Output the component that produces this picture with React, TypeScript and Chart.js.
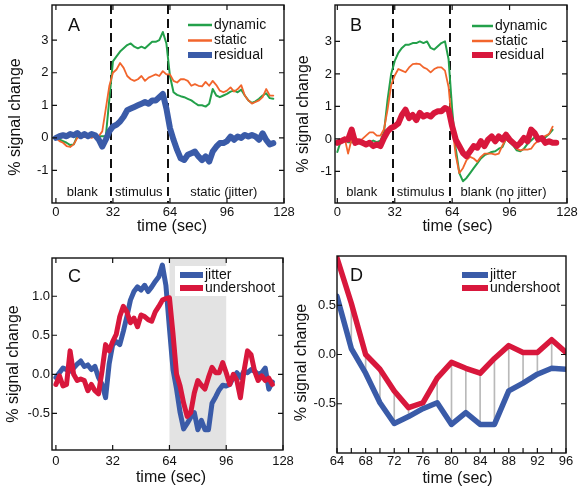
import React, { useEffect, useRef } from "react";
import { Chart, registerables } from "chart.js";

Chart.register(...registerables);

const FONT = "'Liberation Sans', Arial, Helvetica, sans-serif";
const GREEN = "#23a04a";
const ORANGE = "#f2652c";
const BLUE = "#3a5ba8";
const RED = "#d8173c";
const INK = "#111111";

// ---------- data ----------
const timeFull = [0, 2, 4, 6, 8, 10, 12, 14, 16, 18, 20, 22, 24, 26, 28, 30, 32, 34, 36, 38, 40, 42, 44, 46, 48, 50, 52, 54, 56, 58, 60, 62, 64, 66, 68, 70, 72, 74, 76, 78, 80, 82, 84, 86, 88, 90, 92, 94, 96, 98, 100, 102, 104, 106, 108, 110, 112, 114, 116, 118, 120, 122];
const timeD = [64, 66, 68, 70, 72, 74, 76, 78, 80, 82, 84, 86, 88, 90, 92, 94, 96];

const aDynamic = [0, -0.05, -0.1, -0.15, -0.22, -0.2, 0.05, 0.08, 0.05, 0.03, 0.05, 0.03, 0.05, 0.05, 0.05,
  1.2, 2.35, 2.5, 2.65, 2.75, 2.85, 2.9, 2.8, 2.75, 2.8, 2.75, 2.85, 2.95, 2.95, 3.0, 3.25, 2.9,
  1.9, 1.4, 1.32, 1.28, 1.25, 1.2, 1.15, 1.07, 1.0, 1.0, 0.96, 1.05, 1.5, 1.3, 1.25, 1.3, 1.35, 1.42, 1.45, 1.4, 1.48, 1.3, 1.15, 1.07, 1.12, 1.2, 1.3, 1.37, 1.22, 1.2];
const aStatic = [0, -0.1, -0.15, -0.25, -0.28, -0.2, 0.0, 0.05, 0.02, 0.05, 0.0, 0.05, 0.05, 0.2, 0.9,
  1.6, 2.0, 2.1, 2.3, 2.15, 1.9, 1.8, 1.75, 1.8, 1.9, 1.75, 1.85, 1.9, 1.95, 1.9, 2.05, 1.95,
  1.95, 1.75, 1.7, 1.8, 1.8, 1.75, 1.6, 1.65, 1.6, 1.58, 1.72, 1.6, 1.75, 1.62, 1.45, 1.4, 1.45, 1.55, 1.42, 1.5, 1.62, 1.3, 1.15, 1.05, 1.1, 1.15, 1.25, 1.5, 1.3, 1.3];
const aResidual = [0.0, 0.05, 0.08, 0.05, 0.12, 0.08, 0.15, 0.05, 0.12, 0.05, 0.12, 0.08, -0.05, -0.27, -0.05,
  0.2, 0.35, 0.4, 0.5, 0.65, 0.85, 0.9, 0.95, 1.0, 1.05, 1.1, 1.05, 1.15, 1.15, 1.25, 1.35, 0.9,
  0.3, -0.06, -0.37, -0.63, -0.68, -0.52, -0.47, -0.42, -0.57, -0.68, -0.57, -0.73, -0.42, -0.27, -0.16, -0.16, -0.1, 0.04, -0.06, 0.04, 0.0, 0.09, 0.04, 0.09, 0.04, -0.06, 0.14, -0.06, -0.2, -0.16];

const bDynamic = [-0.4, -0.05, 0.0, -0.1, -0.1, -0.1, -0.05, -0.1, -0.15, -0.1, -0.05, -0.1, -0.05, 0.2,
  1.2, 2.0, 2.4, 2.65, 2.8, 2.9, 2.9, 2.95, 2.95, 3.0, 2.95, 3.0, 2.8, 2.75, 2.85, 2.95, 3.0, 2.45,
  0.9, -0.3, -1.05, -1.3, -1.2, -1.05, -0.9, -0.75, -0.6, -0.5, -0.45, -0.4, -0.38, -0.3, -0.25, 0.0, -0.1, -0.2, -0.35, -0.38, -0.3, -0.15, -0.05, 0.05, 0.0, -0.02, 0.05, 0.15, 0.28];
const bStatic = [-0.1, -0.1, 0.05, -0.45, 0.0, 0.05, -0.05, 0.0, 0.1, 0.2, 0.2, 0.1, 0.1, 0.3,
  0.9, 1.65, 1.95, 2.15, 2.1, 2.05, 2.2, 2.3, 2.32, 2.3, 2.2, 2.15, 2.05, 2.15, 2.2, 2.2, 2.1, 1.6,
  0.4, -0.5, -1.05, -0.9, -0.65, -0.55, -0.6, -0.7, -0.55, -0.45, -0.45, -0.45, -0.48, -0.45, -0.2, 0.0, -0.1, -0.15, -0.3, -0.35, -0.32, -0.33, -0.3, -0.15, -0.05, 0.02, 0.1, 0.15, 0.38];
const bResidual = [-0.12, -0.07, -0.02, -0.02, 0.29, -0.12, -0.07, -0.12, -0.17, -0.12, -0.22, -0.17, -0.22,
  0.03, 0.23, 0.34, 0.39, 0.48, 0.74, 0.9, 0.64, 0.74, 0.58, 0.8, 0.69, 0.74, 0.69, 0.8, 0.85, 0.85, 0.95, 0.9,
  0.39, -0.02, -0.22, -0.43, -0.53, -0.38, -0.22, -0.27, -0.07, -0.22, -0.02, 0.08, -0.07, 0.08, -0.02, 0.13, -0.02, -0.12, -0.22, -0.12, 0.03, -0.07, 0.29, 0.18, -0.02, 0.03, -0.12, -0.07, -0.12, -0.12];

// panel D (64–96 s), also the middle part of panel C
const dJitter = [0.59, 0.06, -0.19, -0.49, -0.7, -0.63, -0.55, -0.49, -0.71, -0.59, -0.71, -0.71, -0.37, -0.29, -0.2, -0.14, -0.15];
const dUndershoot = [0.98, 0.52, 0.0, -0.15, -0.37, -0.54, -0.49, -0.24, -0.08, -0.14, -0.19, -0.04, 0.09, 0.02, 0.02, 0.15, 0.02];

const cJitterHead = [-0.04, 0.02, 0.08, 0.06, 0.04, 0.08, 0.13, 0.17, 0.1, 0.12, 0.06, 0.1, -0.04, -0.13, -0.3, 0.13,
  0.38, 0.42, 0.38, 0.55, 0.74, 0.95, 1.06, 1.12, 1.08, 1.14, 1.06, 1.12, 1.19, 1.25, 1.4, 1.14];
const cJitterTail = [-0.13, -0.04, 0.02, -0.04, 0.04, 0.02, 0.06, 0.04, 0.0, 0.02, 0.08, -0.19, -0.1];
const cUndershootHead = [-0.13, -0.02, -0.15, -0.13, 0.3, 0.0, -0.08, -0.06, -0.08, -0.21, -0.13, -0.21, -0.25, 0.04, 0.38, 0.3,
  0.42, 0.51, 0.74, 0.87, 0.8, 0.66, 0.72, 0.61, 0.76, 0.74, 0.7, 0.68, 0.8, 0.87, 0.95, 0.97];
const cUndershootTail = [-0.13, 0.0, -0.08, -0.3, 0.04, 0.3, 0.25, 0.04, -0.08, -0.02, -0.08, -0.05, -0.13];
const cJitter = [...cJitterHead, ...dJitter, ...cJitterTail];
const cUndershoot = [...cUndershootHead, ...dUndershoot, ...cUndershootTail];

// ticks / annotations
const xTicksFull = [0, 32, 64, 96, 128];
const xTicksD = [64, 68, 72, 76, 80, 84, 88, 92, 96];
const xMarksD = [64, 66, 68, 70, 72, 74, 76, 78, 80, 82, 84, 86, 88, 90, 92, 94, 96];
const yTicksAB = [-1, 0, 1, 2, 3];
const yTicksC = [-0.5, 0, 0.5, 1];
const yTicksD = [-0.5, 0, 0.5];
const stimulusEdges = [31, 63];
const shadeC: [number, number] = [64, 96];
const regionsA = [{ text: "blank", at: 14.8 }, { text: "stimulus", at: 46.5 }, { text: "static (jitter)", at: 94.2 }];
const regionsB = [{ text: "blank", at: 13.6 }, { text: "stimulus", at: 46.4 }, { text: "blank (no jitter)", at: 92.6 }];

// ---------- helpers ----------
type Box = { left: number; top: number; width: number; height: number };
type Area = { l: number; t: number; r: number; b: number };
type LegendItem = { label: string; color: string; width: number };
type Pt = { x: number; y: number };

interface PanelSpec {
  name: string;
  box: Box;
  area: Area;
  xRange: [number, number];
  yRange: [number, number];
  xTicks: number[];
  xMarks?: number[];
  topTicks: boolean;
  yTicks: number[];
  yDigits: number;
  xTickPad: number;
  yTickPad: number;
  xAxisH: number;
  yTitle: Pt;
  xTitle: Pt;
  letter: Pt;
  legend: { items: LegendItem[]; x0: number; x1: number; tx: number; ys: number[]; bg?: { x0: number; y0: number; x1: number; y1: number } };
  shade?: [number, number];
  dashes?: number[];
  regions?: { text: string; at: number }[];
  regionY?: number;
  datasets: any[];
}

const pts = (xs: number[], ys: number[]) => ys.map((y, i) => ({ x: xs[i], y }));

const line = (data: Pt[], color: string, width: number, order: number) => ({
  type: "line",
  data,
  borderColor: color,
  backgroundColor: color,
  borderWidth: width,
  pointRadius: 0,
  tension: 0,
  fill: false,
  borderJoinStyle: "round",
  borderCapStyle: "round",
  order,
});

function makeDecor(spec: PanelSpec) {
  const ox = spec.box.left;
  const oy = spec.box.top;
  return {
    id: "decor" + spec.name,
    beforeDatasetsDraw(chart: any) {
      const { ctx, chartArea: ca, scales } = chart;
      const xs = scales.x;
      ctx.save();
      if (spec.shade) {
        const x0 = xs.getPixelForValue(spec.shade[0]);
        const x1 = xs.getPixelForValue(spec.shade[1]);
        ctx.fillStyle = "#e3e3e3";
        ctx.fillRect(x0, ca.top, x1 - x0, ca.bottom - ca.top);
      }
      if (spec.dashes) {
        ctx.strokeStyle = INK;
        ctx.lineWidth = 2;
        ctx.setLineDash([9, 5]);
        for (const d of spec.dashes) {
          const px = Math.round(xs.getPixelForValue(d));
          ctx.beginPath();
          ctx.moveTo(px, ca.top);
          ctx.lineTo(px, ca.bottom);
          ctx.stroke();
        }
        ctx.setLineDash([]);
      }
      ctx.restore();
    },
    afterDraw(chart: any) {
      const { ctx, chartArea: ca, scales } = chart;
      const xs = scales.x;
      const ys = scales.y;
      ctx.save();
      // frame
      ctx.strokeStyle = INK;
      ctx.lineWidth = 1.4;
      ctx.strokeRect(ca.left, ca.top, ca.right - ca.left, ca.bottom - ca.top);
      // inward ticks
      const tl = 5;
      ctx.lineWidth = 1.2;
      ctx.beginPath();
      for (const v of spec.xMarks ?? spec.xTicks) {
        const px = xs.getPixelForValue(v);
        if (px < ca.left - 0.5 || px > ca.right + 0.5) continue;
        ctx.moveTo(px, ca.bottom);
        ctx.lineTo(px, ca.bottom - tl);
        if (spec.topTicks) {
          ctx.moveTo(px, ca.top);
          ctx.lineTo(px, ca.top + tl);
        }
      }
      for (const v of spec.yTicks) {
        const py = ys.getPixelForValue(v);
        ctx.moveTo(ca.left, py);
        ctx.lineTo(ca.left + tl, py);
        ctx.moveTo(ca.right, py);
        ctx.lineTo(ca.right - tl, py);
      }
      ctx.stroke();

      ctx.fillStyle = INK;
      ctx.textBaseline = "middle";
      // region labels
      if (spec.regions && spec.regionY !== undefined) {
        ctx.font = `13px ${FONT}`;
        ctx.textAlign = "center";
        const py = ys.getPixelForValue(spec.regionY);
        for (const r of spec.regions) ctx.fillText(r.text, xs.getPixelForValue(r.at), py);
      }
      // legend
      const lg = spec.legend;
      if (lg.bg) {
        ctx.fillStyle = "#ffffff";
        ctx.fillRect(lg.bg.x0 - ox, lg.bg.y0 - oy, lg.bg.x1 - lg.bg.x0, lg.bg.y1 - lg.bg.y0);
      }
      lg.items.forEach((it, i) => {
        const y = lg.ys[i] - oy;
        ctx.strokeStyle = it.color;
        ctx.lineWidth = it.width;
        ctx.lineCap = "butt";
        ctx.beginPath();
        ctx.moveTo(lg.x0 - ox, y);
        ctx.lineTo(lg.x1 - ox, y);
        ctx.stroke();
        ctx.fillStyle = INK;
        ctx.font = `14px ${FONT}`;
        ctx.textAlign = "left";
        ctx.fillText(it.label, lg.tx - ox, y);
      });
      // panel letter
      ctx.fillStyle = INK;
      ctx.font = `18px ${FONT}`;
      ctx.textAlign = "left";
      ctx.fillText(spec.name, spec.letter.x - ox, spec.letter.y - oy);
      // axis titles
      ctx.font = `16px ${FONT}`;
      ctx.textAlign = "center";
      ctx.fillText("time (sec)", spec.xTitle.x - ox, spec.xTitle.y - oy);
      ctx.save();
      ctx.translate(spec.yTitle.x - ox, spec.yTitle.y - oy);
      ctx.rotate(-Math.PI / 2);
      ctx.fillText("% signal change", 0, 0);
      ctx.restore();
      ctx.restore();
    },
  };
}

function buildConfig(spec: PanelSpec): any {
  const { box, area } = spec;
  const tickFont = { family: FONT, size: 13 };
  return {
    type: "line",
    data: { datasets: spec.datasets },
    options: {
      responsive: false,
      maintainAspectRatio: false,
      animation: false,
      devicePixelRatio: 1,
      events: [],
      layout: {
        padding: {
          left: 0,
          top: area.t - box.top,
          right: box.left + box.width - area.r,
          bottom: box.top + box.height - area.b - spec.xAxisH,
        },
      },
      plugins: { legend: { display: false }, tooltip: { enabled: false }, title: { display: false } },
      scales: {
        x: {
          type: "linear",
          min: spec.xRange[0],
          max: spec.xRange[1],
          offset: false,
          grid: { display: false, drawTicks: false },
          border: { display: false },
          ticks: { font: tickFont, color: INK, padding: spec.xTickPad, maxRotation: 0, autoSkip: false, callback: (v: any) => String(v) },
          afterBuildTicks: (s: any) => {
            s.ticks = spec.xTicks.map((v) => ({ value: v }));
          },
          afterFit: (s: any) => {
            s.height = spec.xAxisH;
            s.paddingLeft = 0;
            s.paddingRight = 0;
          },
        },
        y: {
          type: "linear",
          min: spec.yRange[0],
          max: spec.yRange[1],
          grid: { display: false, drawTicks: false },
          border: { display: false },
          ticks: { font: tickFont, color: INK, padding: spec.yTickPad, autoSkip: false, callback: (v: any) => Number(v).toFixed(spec.yDigits) },
          afterBuildTicks: (s: any) => {
            s.ticks = spec.yTicks.map((v) => ({ value: v }));
          },
          afterFit: (s: any) => {
            s.width = area.l - box.left;
            s.paddingTop = 0;
            s.paddingBottom = 0;
          },
        },
      },
    },
    plugins: [makeDecor(spec)],
  };
}

// ---------- panels ----------
const specA: PanelSpec = {
  name: "A",
  box: { left: 0, top: 0, width: 312, height: 245 },
  area: { l: 52, t: 5, r: 284, b: 203 },
  xRange: [-2.2, 128],
  yRange: [-2, 4.08],
  xTicks: xTicksFull,
  topTicks: true,
  yTicks: yTicksAB,
  yDigits: 0,
  xTickPad: 2,
  yTickPad: 3.5,
  xAxisH: 40,
  yTitle: { x: 16, y: 117 },
  xTitle: { x: 172, y: 227 },
  letter: { x: 68, y: 26 },
  legend: {
    items: [
      { label: "dynamic", color: GREEN, width: 2.5 },
      { label: "static", color: ORANGE, width: 2.5 },
      { label: "residual", color: BLUE, width: 6 },
    ],
    x0: 188, x1: 212, tx: 214, ys: [25, 40.5, 55],
  },
  dashes: stimulusEdges,
  regions: regionsA,
  regionY: -1.69,
  datasets: [
    line(pts(timeFull, aResidual), BLUE, 6, 0),
    line(pts(timeFull, aStatic), ORANGE, 1.8, 1),
    line(pts(timeFull, aDynamic), GREEN, 2, 2),
  ],
};

const specB: PanelSpec = {
  name: "B",
  box: { left: 290, top: 0, width: 290, height: 245 },
  area: { l: 335, t: 5, r: 567, b: 203 },
  xRange: [-1.3, 128],
  yRange: [-1.97, 4.12],
  xTicks: xTicksFull,
  topTicks: true,
  yTicks: yTicksAB,
  yDigits: 0,
  xTickPad: 2,
  yTickPad: 3,
  xAxisH: 40,
  yTitle: { x: 303.5, y: 114 },
  xTitle: { x: 457.5, y: 227 },
  letter: { x: 350, y: 26 },
  legend: {
    items: [
      { label: "dynamic", color: GREEN, width: 2.5 },
      { label: "static", color: ORANGE, width: 2.5 },
      { label: "residual", color: RED, width: 6 },
    ],
    x0: 472, x1: 493, tx: 495, ys: [26, 41, 55],
  },
  dashes: stimulusEdges,
  regions: regionsB,
  regionY: -1.65,
  datasets: [
    line(pts(timeFull, bResidual), RED, 6, 0),
    line(pts(timeFull, bStatic), ORANGE, 1.8, 1),
    line(pts(timeFull, bDynamic), GREEN, 2, 2),
  ],
};

const specC: PanelSpec = {
  name: "C",
  box: { left: 0, top: 245, width: 312, height: 244 },
  area: { l: 52, t: 258, r: 283, b: 450 },
  xRange: [-2.2, 128],
  yRange: [-0.97, 1.49],
  xTicks: xTicksFull,
  topTicks: true,
  yTicks: yTicksC,
  yDigits: 1,
  xTickPad: 4,
  yTickPad: 2,
  xAxisH: 37,
  yTitle: { x: 14, y: 364 },
  xTitle: { x: 171, y: 478 },
  letter: { x: 68, y: 277.5 },
  legend: {
    items: [
      { label: "jitter", color: BLUE, width: 6 },
      { label: "undershoot", color: RED, width: 6 },
    ],
    x0: 180, x1: 203, tx: 205, ys: [275, 288],
    bg: { x0: 175, y0: 266, x1: 279, y1: 296 },
  },
  shade: shadeC,
  datasets: [
    line(pts(timeFull, cUndershoot), RED, 5, 0),
    line(pts(timeFull, cJitter), BLUE, 5, 1),
  ],
};

const specD: PanelSpec = {
  name: "D",
  box: { left: 290, top: 245, width: 290, height: 244 },
  area: { l: 337, t: 256, r: 566, b: 453 },
  xRange: [64, 96],
  yRange: [-1, 1],
  xTicks: xTicksD,
  xMarks: xMarksD,
  topTicks: false,
  yTicks: yTicksD,
  yDigits: 1,
  xTickPad: 1,
  yTickPad: 1,
  xAxisH: 35,
  yTitle: { x: 302, y: 362.5 },
  xTitle: { x: 457.5, y: 479 },
  letter: { x: 350, y: 276 },
  legend: {
    items: [
      { label: "jitter", color: BLUE, width: 6 },
      { label: "undershoot", color: RED, width: 6 },
    ],
    x0: 462, x1: 488, tx: 490, ys: [275, 288],
  },
  datasets: [
    line(pts(timeD, dUndershoot), RED, 5.5, 0),
    line(pts(timeD, dJitter), BLUE, 5.5, 1),
    {
      type: "bar",
      data: timeD
        .map((t, i) => ({ x: t, y: [dJitter[i], dUndershoot[i]] }))
        .filter((p) => p.x > timeD[0] && p.x < timeD[timeD.length - 1]),
      backgroundColor: "#b9b9b9",
      borderWidth: 0,
      barThickness: 1,
      order: 10,
    },
  ],
};

function Panel({ spec }: { spec: PanelSpec }) {
  const ref = useRef<HTMLCanvasElement | null>(null);
  useEffect(() => {
    const chart = new Chart(ref.current as HTMLCanvasElement, buildConfig(spec));
    return () => chart.destroy();
  }, [spec]);
  const { box } = spec;
  return (
    <canvas
      ref={ref}
      width={box.width}
      height={box.height}
      style={{ position: "absolute", left: box.left, top: box.top, width: box.width, height: box.height }}
    />
  );
}

export default function App() {
  return (
    <div style={{ position: "absolute", left: 0, top: 0, width: 580, height: 489, background: "#ffffff", overflow: "hidden" }}>
      <Panel spec={specA} />
      <Panel spec={specB} />
      <Panel spec={specC} />
      <Panel spec={specD} />
    </div>
  );
}
